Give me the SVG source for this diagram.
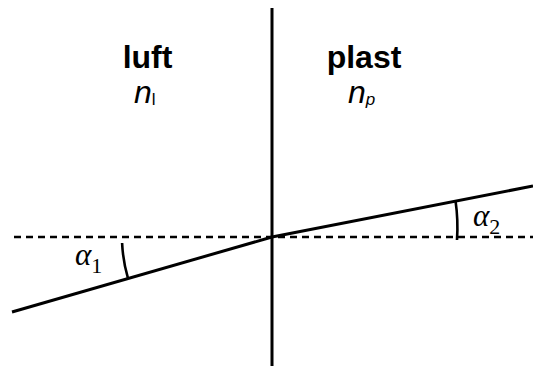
<svg xmlns="http://www.w3.org/2000/svg" width="533" height="366" viewBox="0 0 533 366">
<style>
.ln{stroke:#000;stroke-width:3;fill:none;stroke-linecap:butt}
.dash{stroke:#000;stroke-width:2.4;fill:none;stroke-dasharray:7 5}
.arc{stroke:#000;stroke-width:2.6;fill:none}
.hd{font-family:"Liberation Sans",Arial,sans-serif;font-weight:bold;font-size:32px;fill:#000}
.n{font-family:"Liberation Sans",Arial,sans-serif;font-style:italic;font-size:32px;fill:#000}
.sub{font-family:"Liberation Sans",Arial,sans-serif;font-size:17px;fill:#000}
.al{font-family:"Liberation Serif","Times New Roman",serif;font-style:italic;font-size:31px;fill:#000}
.as{font-family:"Liberation Serif","Times New Roman",serif;font-size:22px;fill:#000}
</style>
<rect width="533" height="366" fill="#fff"/>
<g id="connectors">
<line class="dash" x1="14" y1="237" x2="533" y2="237"/>
<line class="ln" x1="272" y1="8" x2="272" y2="366"/>
<line class="ln" x1="12" y1="312" x2="272" y2="237"/>
<line class="ln" x1="272" y1="237" x2="533" y2="186"/>
<path class="arc" d="M122.1 243 A150 150 0 0 0 128 278.4"/>
<path class="arc" d="M455.5 200.6 A187 187 0 0 1 457 240"/>
</g>
<g id="luft">
<text class="hd" x="147.5" y="68" text-anchor="middle">luft</text>
<text class="n" x="134" y="103">n<tspan class="sub" font-style="normal" dy="2">l</tspan></text>
</g>
<g id="plast">
<text class="hd" x="364" y="68" text-anchor="middle">plast</text>
<text class="n" x="348" y="103">n<tspan class="sub" font-style="italic" dy="2">p</tspan></text>
</g>
<g id="alpha1">
<text class="al" x="75" y="265">α<tspan class="as" font-style="normal" dy="8">1</tspan></text>
</g>
<g id="alpha2">
<text class="al" x="473" y="226">α<tspan class="as" font-style="normal" dy="8">2</tspan></text>
</g>
</svg>
